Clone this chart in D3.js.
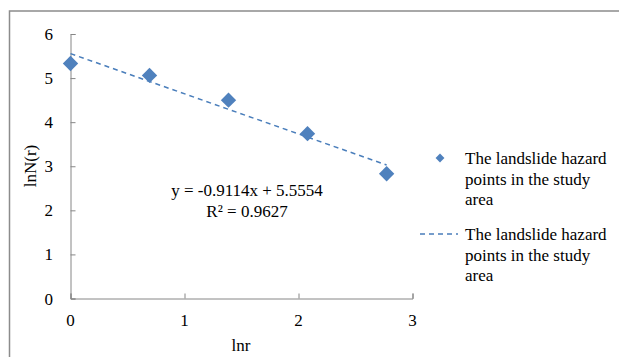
<!DOCTYPE html>
<html><head><meta charset="utf-8">
<script src="https://cdn.jsdelivr.net/npm/d3@7/dist/d3.min.js"></script>
<style>body{margin:0;background:#fff}svg{display:block}text{font-family:"Liberation Serif","Times New Roman",serif;fill:#000}</style>
</head><body>
<script>
const lnr = [0, 0.693, 1.386, 2.079, 2.773];
const lnN = [5.33, 5.06, 4.50, 3.74, 2.83];
const xTicks = [0, 1, 2, 3];
const yTicks = [0, 1, 2, 3, 4, 5, 6];
const slope = -0.9114, intercept = 5.5554;
const eqText = "y = -0.9114x + 5.5554";
const r2Text = "R² = 0.9627";
const legendLines = ["The landslide hazard", "points in the study", "area"];

const W = 619, H = 357;
const FS = 17;
const svg = d3.select("body").append("svg").attr("width", W).attr("height", H);
svg.append("rect").attr("x", 9.5).attr("y", 11).attr("width", W).attr("height", H)
  .attr("fill", "none").attr("stroke", "#8c8c8c").attr("stroke-width", 1.5);

const x = d3.scaleLinear().domain([0, 3]).range([70.5, 412.5]);
const y = d3.scaleLinear().domain([0, 6]).range([298.5, 34]);
const axisColor = "#868686";

const xa = svg.append("g").attr("transform", `translate(0,${y(0)})`)
  .call(d3.axisTop(x).tickValues(xTicks).tickSize(5).tickFormat(() => ""));
xa.select(".domain").attr("stroke", axisColor);
xa.selectAll(".tick line").attr("stroke", axisColor);
const ya = svg.append("g").attr("transform", `translate(${x(0)},0)`)
  .call(d3.axisRight(y).tickValues(yTicks).tickSize(5).tickFormat(() => ""));
ya.select(".domain").attr("stroke", axisColor);
ya.selectAll(".tick line").attr("stroke", axisColor);

svg.append("g").selectAll("text").data(xTicks).join("text")
  .attr("x", d => x(d)).attr("y", 326).attr("text-anchor", "middle")
  .attr("font-size", FS).text(d => d);
svg.append("g").selectAll("text").data(yTicks).join("text")
  .attr("x", 53).attr("y", d => y(d) + 6).attr("text-anchor", "end")
  .attr("font-size", FS).text(d => d);

svg.append("text").attr("x", 241).attr("y", 351).attr("text-anchor", "middle")
  .attr("font-size", FS).text("lnr");
svg.append("text").attr("transform", "translate(36,166) rotate(-90)")
  .attr("text-anchor", "middle").attr("font-size", FS).text("lnN(r)");

const col = "#4a7ebb";
svg.append("line")
  .attr("x1", x(lnr[0])).attr("y1", y(intercept + slope * lnr[0]))
  .attr("x2", x(lnr[lnr.length - 1])).attr("y2", y(intercept + slope * lnr[lnr.length - 1]))
  .attr("stroke", col).attr("stroke-width", 1.5).attr("stroke-dasharray", "5,4");

const diamond = d3.symbol().type(d3.symbolDiamond2).size(150);
svg.append("g").selectAll("path").data(lnr).join("path")
  .attr("transform", (d, i) => `translate(${x(d)},${y(lnN[i])})`)
  .attr("d", diamond).attr("fill", "#4f81bd");

svg.append("text").attr("x", 247).attr("y", 196).attr("text-anchor", "middle")
  .attr("font-size", FS).text(eqText);
svg.append("text").attr("x", 247).attr("y", 217).attr("text-anchor", "middle")
  .attr("font-size", FS).text(r2Text);

// legend
svg.append("path").attr("transform", "translate(440,158)")
  .attr("d", d3.symbol().type(d3.symbolDiamond2).size(50)).attr("fill", "#4f81bd");
svg.append("line").attr("x1", 420).attr("x2", 458).attr("y1", 234).attr("y2", 234)
  .attr("stroke", col).attr("stroke-width", 1.5).attr("stroke-dasharray", "5,4");
[164, 240].forEach(base => {
  svg.append("g").selectAll("text").data(legendLines).join("text")
    .attr("x", 465).attr("y", (d, i) => base + i * 20.5)
    .attr("font-size", FS).text(d => d);
});
</script>
</body></html>
